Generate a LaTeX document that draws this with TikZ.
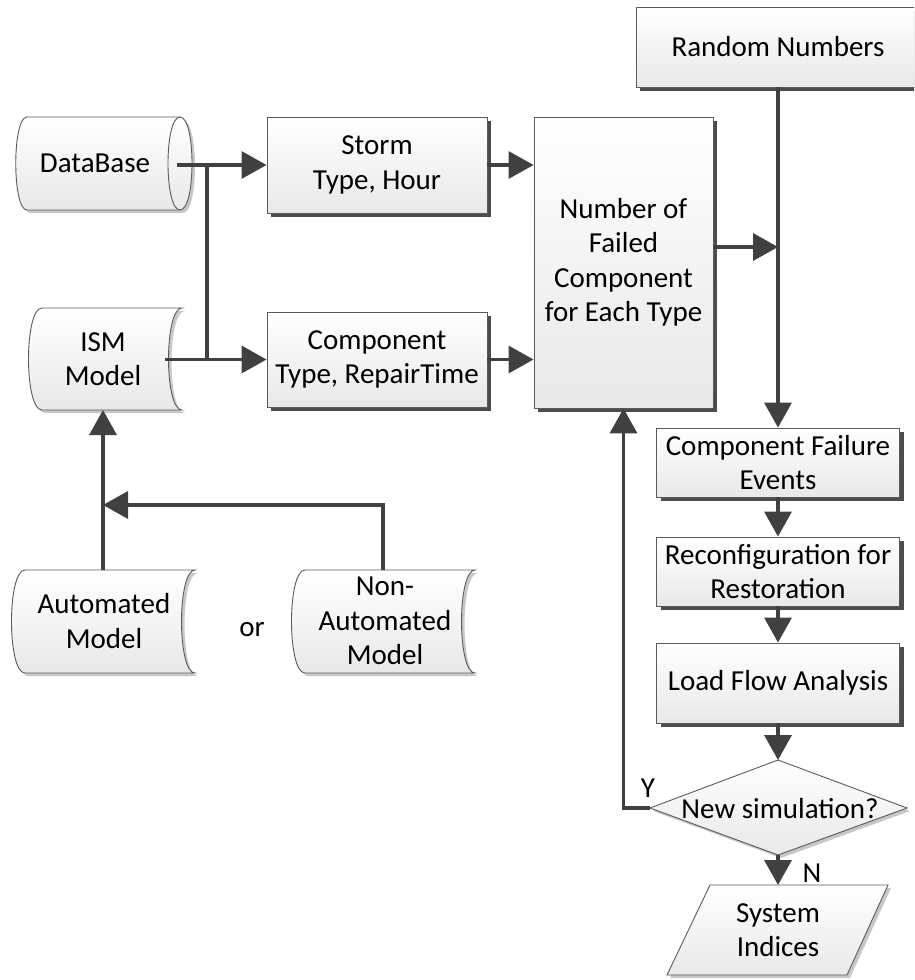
\documentclass[tikz,border=0pt]{standalone}
\usepackage{fontspec}
\setmainfont{Carlito}
\usetikzlibrary{arrows.meta,shadows,calc}
\definecolor{arrowc}{HTML}{404040}
\definecolor{edgec}{HTML}{5A5A5A}
\begin{document}
\begin{tikzpicture}[x=1pt,y=-1pt,
  txt/.style={font=\fontsize{29}{34.5}\selectfont, align=center, text=black},
  fillshade/.style={top color=white, bottom color=black!9, draw=edgec, line width=0.9pt},
  box/.style={txt, fillshade, inner sep=0pt, drop shadow={shadow xshift=4pt, shadow yshift=-4pt, fill=black!70, opacity=1}},
  softshape/.style={fillshade, drop shadow={shadow xshift=3pt, shadow yshift=-3pt, fill=black!22, opacity=1}},
  arr/.style={draw=arrowc, line width=3.5pt, -{Triangle[length=25pt,width=27pt]}},
  ln/.style={draw=arrowc, line width=3.5pt},
]
\useasboundingbox (0,0) rectangle (914,980);
\clip (0,0) rectangle (914,980);

% rectangular process boxes
\node[box, minimum width=284pt, minimum height=80pt] (rand) at (778,47) {Random Numbers};
\node[box, minimum width=220pt, minimum height=96pt] (storm) at (377,165) {Storm\\Type, Hour};
\node[box, minimum width=220pt, minimum height=95pt] (comp) at (377,359.5) {Component\\Type, RepairTime};
\node[box, minimum width=179pt, minimum height=291pt] (num) at (623.5,262.5) {Number of\\Failed\\Component\\for Each Type};
\node[box, minimum width=243pt, minimum height=69pt] (cfe) at (778,462.5) {Component Failure\\Events};
\node[box, minimum width=243pt, minimum height=69pt] (reconf) at (778,571.5) {Reconfiguration for\\Restoration};
\node[box, minimum width=243pt, minimum height=80pt] (lfa) at (778,683) {Load Flow Analysis};

% DataBase cylinder
\path[softshape] (27,117) -- (180,117) .. controls (196,117) and (196,210) .. (180,210) -- (27,210) .. controls (12,210) and (12,117) .. (27,117) -- cycle;
\draw[edgec, line width=0.9pt] (180,117) .. controls (164,117) and (164,210) .. (180,210);
\node[txt] (db) at (95,163.5) {DataBase};

% stored data shapes
\path[softshape] (42,308) -- (182,308) .. controls (164,308) and (164,410) .. (182,410) -- (42,410) .. controls (24,410) and (24,308) .. (42,308) -- cycle;
\node[txt] (ism) at (103,359) {ISM\\Model};

\path[softshape] (25,570) -- (195,570) .. controls (177,570) and (177,673) .. (195,673) -- (25,673) .. controls (7,673) and (7,570) .. (25,570) -- cycle;
\node[txt] (auto) at (104,621) {Automated\\Model};

\path[softshape] (305,570) -- (475,570) .. controls (457,570) and (457,673) .. (475,673) -- (305,673) .. controls (287,673) and (287,570) .. (305,570) -- cycle;
\node[txt] (nonauto) at (385,621) {Non-\\Automated\\Model};

% decision diamond
\coordinate (dT) at (778,760);
\coordinate (dR) at (907,808);
\coordinate (dB) at (778,855);
\coordinate (dL) at (650,808);
\path[softshape] (dT) -- (dR) -- (dB) -- (dL) -- cycle;
\node[txt] (dec) at (780,809) {New simulation?};

% output parallelogram
\path[softshape] (710,885) -- (888,885) -- (847,975) -- (667,975) -- cycle;
\coordinate (systop) at (778,885);
\node[txt] (sys) at (778,930) {System\\Indices};

% connector points
\coordinate (dbout) at (177,165);
\coordinate (ismout) at (165,359.5);
\coordinate (jx) at (207,165);
\coordinate (jy) at (207,359.5);
\coordinate (ismbot) at (103,410);
\coordinate (autotop) at (103,570);
\coordinate (nonautotop) at (383,570);
\coordinate (bend) at (383,505);
\coordinate (merge) at (103,505);
\coordinate (numout) at (713,247);

% connectors
\draw[arr] (dbout) -- (storm.west);
\draw[ln] (jx) -- (jy);
\draw[arr] (ismout) -- (comp.west);
\draw[arr] (storm.east) -- (storm.east -| num.west);
\draw[arr] (comp.east) -- (comp.east -| num.west);
\draw[arr] (numout) -- (rand.south |- numout);
\draw[arr] (rand.south) -- (cfe.north);
\draw[arr] (cfe.south) -- (reconf.north);
\draw[arr] (reconf.south) -- (lfa.north);
\draw[arr] (lfa.south) -- (dT);
\draw[arr] (dB) -- (systop);
\draw[arr] (dL) -- (dL -| num.south) -- (num.south);
\draw[arr] (autotop) -- (ismbot);
\draw[arr] (nonautotop) -- (bend) -- (merge);

% labels
\node[txt] (ylab) at (648,788) {Y};
\node[txt] (nlab) at (812,873) {N};
\node[txt] (orlab) at (252,630) {or};
\end{tikzpicture}
\end{document}
